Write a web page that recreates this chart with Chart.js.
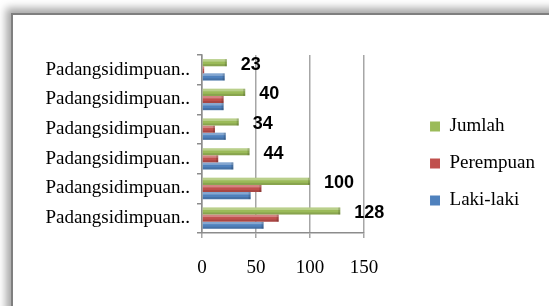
<!DOCTYPE html>
<html>
<head>
<meta charset="utf-8">
<script src="https://cdn.jsdelivr.net/npm/chart.js@4"></script>
<style>
  body { margin: 0; background: #fff; overflow: hidden; }
  #frame {
    position: absolute; left: 11px; top: 13px; width: 600px; height: 400px;
    border-left: 2px solid #7f7f7f; border-top: 2px solid #7f7f7f;
    box-shadow: -5px -5px 8px rgba(0, 0, 0, 0.35);
    background: #fff;
  }
  #wrap { position: absolute; left: 0; top: 0; width: 549px; height: 306px; }
</style>
</head>
<body>
<div id="frame"></div>
<div id="wrap"><canvas id="barChart"></canvas></div>
<script>
  const labels = ["Padangsidimpuan..", "Padangsidimpuan..", "Padangsidimpuan..",
                  "Padangsidimpuan..", "Padangsidimpuan..", "Padangsidimpuan.."];
  const jumlah = [23, 40, 34, 44, 100, 128];
  const perempuan = [2, 20, 12, 15, 55, 71];
  const lakiLaki = [21, 20, 22, 29, 45, 57];
  const xTicks = [0, 50, 100, 150];

  const serif = "'Liberation Serif', 'Times New Roman', serif";

  // light top / dark bottom stripe and a darker end so the bars look a bit 3D
  const barShade = {
    id: 'barShade',
    afterDatasetsDraw(chart) {
      const c = chart.ctx;
      chart.data.datasets.forEach((ds, i) => {
        chart.getDatasetMeta(i).data.forEach(bar => {
          const h = bar.height;
          const top = bar.y - h / 2;
          const w = bar.x - bar.base;
          c.save();
          c.fillStyle = 'rgba(255,255,255,0.30)';
          c.fillRect(bar.base, top, w, h * 0.35);
          c.fillStyle = 'rgba(0,0,0,0.12)';
          c.fillRect(bar.base, top + h * 0.7, w, h * 0.3);
          if (w > 3) {
            c.fillStyle = 'rgba(0,0,0,0.15)';
            c.fillRect(bar.x - 2, top, 2, h);
          }
          c.restore();
        });
      });
    }
  };

  // value labels on the Jumlah bars
  const valueLabels = {
    id: 'valueLabels',
    afterDatasetsDraw(chart) {
      const c = chart.ctx;
      c.save();
      c.font = "bold 18px 'Liberation Sans', Arial, sans-serif";
      c.fillStyle = '#000';
      c.textBaseline = 'middle';
      c.textAlign = 'left';
      chart.getDatasetMeta(0).data.forEach((bar, i) => {
        c.fillText(String(jumlah[i]), bar.x + 14, bar.y + 2);
      });
      c.restore();
    }
  };

  const ctx = document.getElementById('barChart').getContext('2d');
  new Chart(ctx, {
    type: 'bar',
    data: {
      labels: labels,
      datasets: [
        { label: 'Jumlah', data: jumlah, backgroundColor: '#9BBB59' },
        { label: 'Perempuan', data: perempuan, backgroundColor: '#C0504D' },
        { label: 'Laki-laki', data: lakiLaki, backgroundColor: '#4F81BD' }
      ]
    },
    options: {
      indexAxis: 'y',
      responsive: true,
      maintainAspectRatio: false,
      animation: false,
      layout: { padding: { left: 45, top: 46, bottom: 25, right: 4 } },
      datasets: { bar: { categoryPercentage: 0.72, barPercentage: 1 } },
      scales: {
        x: {
          min: 0,
          max: 150,
          afterBuildTicks: s => { s.ticks = xTicks.map(v => ({ value: v })); },
          afterFit: s => { s.height = 48; },
          grid: { color: '#a6a6a6', lineWidth: 1.5, tickLength: 5 },
          border: { color: '#8c8c8c', width: 1.5 },
          ticks: { color: '#000', padding: 19, font: { family: serif, size: 19 } }
        },
        // empty spacer on top so the legend sits a little higher than the plot
        x2: {
          type: 'linear',
          position: 'top',
          min: 0,
          max: 150,
          afterFit: s => { s.height = 9; },
          grid: { display: false },
          border: { display: false },
          ticks: { display: false }
        },
        y: {
          afterFit: s => { s.width = 157; },
          grid: { drawOnChartArea: false, color: '#8c8c8c', tickLength: 5, lineWidth: 1.5 },
          border: { color: '#8c8c8c', width: 1.5 },
          ticks: { color: '#000', padding: 7, font: { family: serif, size: 19 } }
        },
        // empty spacer between plot and legend
        y2: {
          type: 'category',
          position: 'right',
          afterFit: s => { s.width = 48; },
          grid: { display: false },
          border: { display: false },
          ticks: { display: false }
        }
      },
      plugins: {
        legend: {
          display: true,
          position: 'right',
          maxWidth: 160,
          labels: {
            boxWidth: 10,
            boxHeight: 10,
            padding: 18,
            color: '#000',
            font: { family: serif, size: 19 }
          }
        },
        tooltip: { enabled: false }
      }
    },
    plugins: [barShade, valueLabels]
  });
</script>
</body>
</html>
